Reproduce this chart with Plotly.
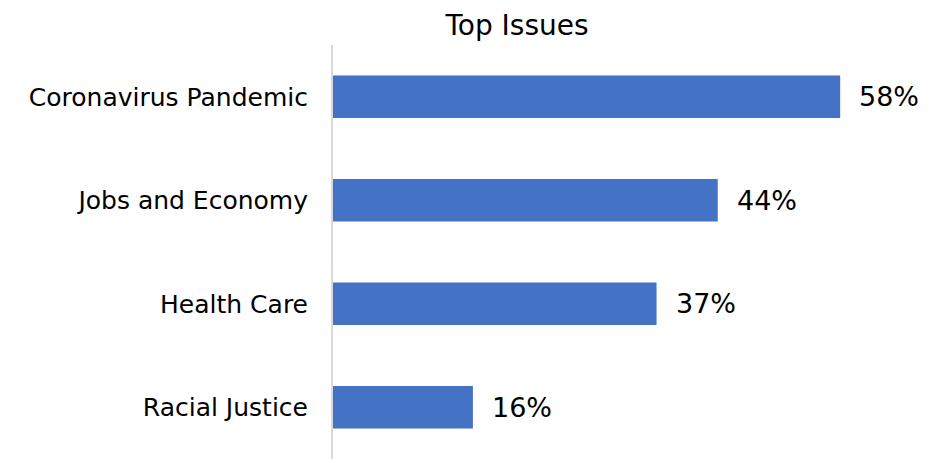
import plotly.graph_objects as go

issues = ["Coronavirus Pandemic", "Jobs and Economy", "Health Care", "Racial Justice"]
shares = [58, 44, 37, 16]
share_labels = ["58%", "44%", "37%", "16%"]

FONT = "DejaVu Sans"
# the page body has an 8px margin, so the figure is drawn 8px smaller / shifted
OFF = 8

fig = go.Figure()
fig.add_trace(go.Bar(
    x=shares,
    y=issues,
    orientation="h",
    marker=dict(color="#4472C4", line=dict(width=0)),
    hoverinfo="skip",
))

# value labels a bit away from the bar ends
for issue, val, lab in zip(issues, shares, share_labels):
    fig.add_annotation(
        x=val, y=issue, text=lab, showarrow=False,
        xanchor="left", xshift=17,
        font=dict(family=FONT, size=27, color="#000000"),
    )

W, H = 946 - OFF, 459 - OFF
fig.update_layout(
    width=W, height=H,
    margin=dict(l=333 - OFF, r=0, t=45 - OFF, b=0),
    paper_bgcolor="white",
    plot_bgcolor="white",
    bargap=0.59,
    showlegend=False,
    title=dict(
        text="Top Issues",
        x=(517 - OFF) / W, xref="container", xanchor="center",
        y=1 - (25 - OFF) / H, yref="container", yanchor="middle",
        font=dict(family=FONT, size=28, color="#000000"),
    ),
    font=dict(family=FONT, size=25, color="#000000"),
)

fig.update_xaxes(
    range=[0, 70.1], visible=False, showgrid=False, zeroline=False,
)
fig.update_yaxes(
    autorange="reversed",
    showline=True, linecolor="#D9D9D9", linewidth=2,
    showgrid=False, ticks="",
    ticklabelstandoff=18,
    tickfont=dict(family=FONT, size=25, color="#000000"),
)

fig.write_html("out.html")
